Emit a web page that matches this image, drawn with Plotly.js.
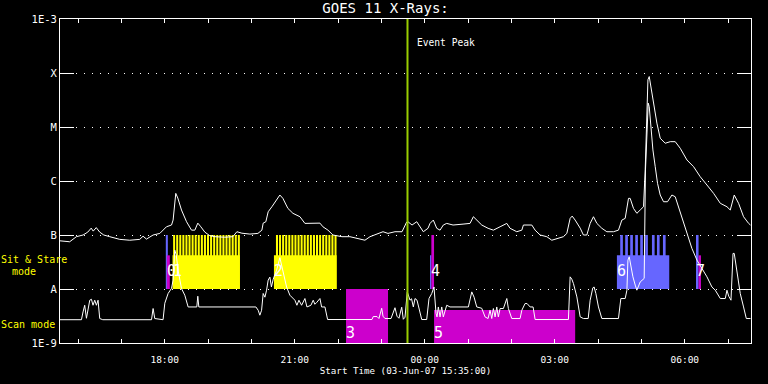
<!DOCTYPE html>
<html>
<head>
<meta charset="utf-8">
<script src="https://cdn.plot.ly/plotly-3.0.1.min.js"></script>
<style>html,body{margin:0;padding:0;background:#000;}#chart{width:768px;height:384px;}</style>
</head>
<body>
<div id="chart"></div>
<script>
// ---- data (times in minutes after the start time 03-Jun-07 15:35:00 UT) ----
const startTime = Date.UTC(2007, 5, 3, 15, 35, 0);
const endMinute = 956.7;
const eventPeak = '2007-06-03 23:36:06';

// GOES 11 long channel (upper curve), W/m^2
const longMin = [0,13.4,22.7,31.9,38.4,43.2,46.0,50.2,55.0,60.6,
  68.9,75.8,82.7,96.6,110.4,115.0,119.7,128.9,138.2,147.4,
  154.4,156.6,160.3,163.1,168.2,175.2,182.1,186.7,190.8,195.0,
  200.5,207.4,214.4,228.2,239.3,244.9,251.8,262.9,274.0,279.5,
  281.3,285.0,288.2,293.4,299.9,304.4,308.6,315.5,322.5,332.2,
  339.1,348.8,359.9,364.0,371.0,377.9,390.4,401.4,412.5,422.2,
  429.2,436.1,447.2,454.1,463.8,473.5,480.0,481.8,487.4,493.9,
  498.4,503.0,509.5,512.3,516.9,521.6,526.2,530.7,535.4,544.2,
  558.0,567.7,572.3,577.0,583.9,592.7,600.0,609.3,618.6,623.1,
  632.4,639.4,641.6,653.2,657.8,664.7,674.0,680.9,687.9,697.0,
  701.7,706.3,709.1,713.2,720.2,724.7,729.4,734.0,738.6,743.3,
  750.2,757.1,766.3,773.2,777.9,782.5,787.1,789.4,794.0,798.7,
  803.3,807.9,810.2,812.6,814.0,815.8,818.1,821.7,826.4,831.0,
  837.9,844.9,851.8,858.7,868.0,877.2,886.4,895.7,904.9,914.2,
  923.4,928.0,933.5,939.5,946.4,953.4,956.0];
const longFlux = [7.8e-8,7.5e-8,9.3e-8,1.0e-7,1.13e-7,1.34e-7,1.18e-7,1.37e-7,1.13e-7,1.0e-7,
  9.3e-8,8.8e-8,8.3e-8,8.0e-8,8.3e-8,9.5e-8,8.4e-8,1.0e-7,1.07e-7,1.42e-7,
  1.53e-7,1.89e-7,5.9e-7,4.84e-7,2.9e-7,1.76e-7,1.23e-7,1.23e-7,1.66e-7,1.42e-7,
  1.13e-7,9.7e-8,9.3e-8,9.1e-8,9.3e-8,1.15e-7,1.08e-7,1.04e-7,1.07e-7,1.23e-7,
  1.66e-7,1.76e-7,2.69e-7,3.34e-7,4.44e-7,5.5e-7,4.77e-7,3.11e-7,2.52e-7,2.18e-7,
  1.64e-7,1.64e-7,1.66e-7,1.42e-7,1.23e-7,1.0e-7,9.3e-8,9.3e-8,8.6e-8,8.0e-8,
  9.3e-8,1.0e-7,1.15e-7,1.07e-7,1.15e-7,1.15e-7,1.74e-7,1.76e-7,1.53e-7,1.76e-7,
  1.42e-7,1.15e-7,1.33e-7,1.64e-7,1.89e-7,1.33e-7,1.23e-7,1.53e-7,1.64e-7,1.53e-7,
  1.59e-7,1.64e-7,2.18e-7,1.89e-7,1.53e-7,1.33e-7,1.23e-7,1.42e-7,1.64e-7,1.33e-7,
  1.15e-7,1.23e-7,1.53e-7,1.53e-7,1.23e-7,1.0e-7,9.3e-8,8.0e-8,8.6e-8,9.3e-8,
  1.07e-7,2.03e-7,2.24e-7,1.89e-7,1.34e-7,1.0e-7,1.0e-7,1.64e-7,2.18e-7,1.64e-7,
  1.33e-7,1.15e-7,1.15e-7,1.23e-7,1.89e-7,2.03e-7,4.77e-7,4.77e-7,3.11e-7,2.52e-7,
  2.9e-7,3.34e-7,1.6e-6,2.77e-5,7.5e-5,8.6e-5,5.6e-5,2.39e-5,1.18e-5,6.2e-6,
  5.0e-6,5.35e-6,5.35e-6,4.04e-6,2.45e-6,1.84e-6,1.2e-6,8.43e-7,5.91e-7,3.86e-7,
  3.34e-7,2.9e-7,5.5e-7,3.86e-7,2.18e-7,1.64e-7,1.53e-7];

// GOES 11 short channel (lower curve), W/m^2
const shortMin = [0,29.7,31.9,34.2,36.6,38.8,41.2,43.5,45.7,48.1,
  50.4,52.7,55.0,59.2,126.7,128.9,131.2,142.7,145.1,149.7,
  154.4,156.6,158.9,161.0,163.5,168.2,172.8,177.4,189.4,190.8,
  192.2,271.2,274.4,276.7,279.1,281.3,283.7,286.0,288.2,290.6,
  292.7,295.2,299.9,304.4,308.6,313.7,318.3,325.2,328.0,330.8,
  334.5,339.1,341.9,347.4,350.6,352.9,355.7,359.9,362.2,366.8,
  370.5,431.9,433.7,438.9,441.6,445.4,447.2,449.9,458.3,463.8,
  466.6,469.3,473.1,475.3,477.7,480.8,484.6,486.7,489.2,491.5,
  494.3,496.1,500.8,507.7,510.9,514.7,517.8,520.6,522.0,523.8,
  526.2,528.5,530.7,535.4,540.0,565.4,570.1,573.3,577.0,583.9,
  588.5,592.7,595.4,597.8,600.0,602.4,604.7,606.9,609.3,613.9,
  618.6,620.8,625.5,637.0,639.4,643.9,646.7,650.9,655.0,657.8,
  703.9,706.3,708.6,710.9,715.6,720.2,724.7,731.3,734.0,737.7,
  739.5,741.9,745.5,750.2,773.2,776.5,782.5,784.9,786.3,788.1,
  790.4,793.2,796.4,798.7,803.3,808.8,810.6,812.6,814.4,815.8,
  818.1,820.9,824.1,827.3,831.0,835.6,841.1,847.2,851.8,856.4,
  861.1,868.0,874.9,881.9,888.8,895.7,902.6,907.2,914.2,921.1,
  923.4,925.9,929.0,931.8,933.5,937.3,941.8,946.4,950.2,956.0];
const shortFlux = [2.7e-9,2.7e-9,3.76e-9,5.0e-9,2.87e-9,4.04e-9,6.2e-9,6.45e-9,5.0e-9,6.2e-9,
  5.0e-9,6.2e-9,2.84e-9,2.7e-9,2.7e-9,4.35e-9,2.84e-9,2.7e-9,5.45e-9,8.26e-9,
  1.03e-8,1.46e-8,5.25e-8,4.24e-8,2.23e-8,1.02e-8,7.67e-9,4.65e-9,4.65e-9,7.35e-9,
  4.65e-9,4.65e-9,4.04e-9,3.27e-9,4.04e-9,8.26e-9,7.05e-9,9.5e-9,1.46e-8,1.66e-8,
  1.09e-8,1.52e-8,2.23e-8,3.81e-8,2.23e-8,1.09e-8,7.67e-9,6.2e-9,5.0e-9,6.2e-9,
  5.0e-9,6.66e-9,4.65e-9,5.0e-9,6.2e-9,5.22e-9,5.69e-9,6.66e-9,4.65e-9,4.65e-9,
  2.72e-9,2.72e-9,3.09e-9,3.09e-9,2.84e-9,4.4e-9,3.13e-9,2.84e-9,2.84e-9,4.5e-9,
  3.13e-9,2.87e-9,4.6e-9,2.75e-9,3.0e-9,8.84e-9,6.2e-9,6.6e-9,4.65e-9,6.66e-9,
  6.2e-9,5.0e-9,2.72e-9,2.72e-9,6.66e-9,8.26e-9,1.09e-8,3.55e-9,3.04e-9,4.65e-9,
  3.04e-9,4.65e-9,3.04e-9,5.0e-9,4.65e-9,4.65e-9,8.84e-9,7.05e-9,4.65e-9,4.4e-9,
  3.04e-9,2.84e-9,4.04e-9,2.84e-9,4.35e-9,3.04e-9,4.65e-9,3.04e-9,4.35e-9,4.35e-9,
  6.66e-9,4.35e-9,2.84e-9,2.84e-9,4.04e-9,5.38e-9,5.38e-9,4.65e-9,4.65e-9,2.72e-9,
  2.72e-9,1.68e-8,1.52e-8,1.26e-8,7.13e-9,3.04e-9,2.84e-9,2.84e-9,6.2e-9,1.05e-8,
  1.09e-8,8.26e-9,4.65e-9,2.84e-9,2.84e-9,6.66e-9,6.66e-9,9.5e-9,3.42e-8,3.94e-8,
  2.57e-8,1.68e-8,1.18e-8,9.5e-9,1.35e-8,1.57e-8,1.6e-6,1.02e-5,2.77e-5,2.39e-5,
  1.02e-5,3.76e-6,1.84e-6,9.06e-7,5.5e-7,4.13e-7,4.13e-7,5.5e-7,5.11e-7,3.34e-7,
  2.18e-7,1.07e-7,5.64e-8,3.42e-8,2.40e-8,1.68e-8,1.09e-8,9.5e-9,6.66e-9,6.66e-9,
  9.5e-9,7.35e-9,6.2e-9,4.56e-8,4.56e-8,1.94e-8,8.26e-9,4.65e-9,2.84e-9,2.84e-9];

// observing blocks: start, end, flux-band bottom, flux-band top, study kind (0,1,2)
const spanStart = ['2007-06-03 18:01:30','2007-06-03 18:02:54','2007-06-03 18:10:48','2007-06-03 20:31:12',
  '2007-06-03 22:11:00','2007-06-04 00:07:20','2007-06-04 00:09:10','2007-06-04 00:12:53',
  '2007-06-04 04:26:03','2007-06-04 06:15:31','2007-06-04 06:19:06'];
const spanEnd = ['2007-06-03 18:04:18','2007-06-03 18:07:04','2007-06-03 19:44:00','2007-06-03 21:58:00',
  '2007-06-03 23:09:09','2007-06-04 00:09:10','2007-06-04 00:12:53','2007-06-04 03:28:16',
  '2007-06-04 05:38:32','2007-06-04 06:19:06','2007-06-04 06:22:24'];
const spanLow = [1e-8,1e-8,1e-8,1e-8,1e-9,1e-8,1e-8,1e-9,1e-8,1e-8,1e-8];
const spanHigh = [1e-7,4.2e-8,4.2e-8,4.2e-8,1e-8,4.2e-8,1e-7,4.1e-9,4.2e-8,1e-7,4.2e-8];
const spanKind = [1,2,0,0,2,1,2,2,1,1,2];

// repeated sit & stare exposures
const stripeStartK0 = ['2007-06-03 18:11:36','2007-06-03 18:15:52','2007-06-03 18:20:08','2007-06-03 18:24:24',
  '2007-06-03 18:28:40','2007-06-03 18:32:56','2007-06-03 18:37:12','2007-06-03 18:41:28','2007-06-03 18:45:44',
  '2007-06-03 18:50:00','2007-06-03 18:54:16','2007-06-03 18:58:32','2007-06-03 19:02:48','2007-06-03 19:07:04',
  '2007-06-03 19:11:20','2007-06-03 19:15:36','2007-06-03 19:19:52','2007-06-03 19:24:08','2007-06-03 19:28:24',
  '2007-06-03 19:32:40','2007-06-03 19:36:56','2007-06-03 19:41:12',
  '2007-06-03 20:34:00','2007-06-03 20:38:16','2007-06-03 20:42:32','2007-06-03 20:46:48','2007-06-03 20:51:04',
  '2007-06-03 20:55:20','2007-06-03 20:59:36','2007-06-03 21:03:52','2007-06-03 21:08:08','2007-06-03 21:12:24',
  '2007-06-03 21:16:40','2007-06-03 21:20:56','2007-06-03 21:25:12','2007-06-03 21:29:28','2007-06-03 21:33:44',
  '2007-06-03 21:38:00','2007-06-03 21:42:16','2007-06-03 21:46:32','2007-06-03 21:50:48','2007-06-03 21:55:04'];
const stripeSecK0 = 168;
const stripeStartK1 = ['2007-06-04 04:30:37','2007-06-04 04:37:32','2007-06-04 04:44:29','2007-06-04 04:51:25',
  '2007-06-04 04:58:20','2007-06-04 05:05:16','2007-06-04 05:14:33','2007-06-04 05:21:29','2007-06-04 05:29:48'];
const stripeSecK1 = 222;
const stripeLow = 1e-8, stripeHigh = 1e-7;

// observation numbers
const obsText = ['0','1','2','3','4','5','6','7'];
const obsTime = ['2007-06-03 18:02:54','2007-06-03 18:10:48','2007-06-03 20:31:12','2007-06-03 22:11:00',
  '2007-06-04 00:09:10','2007-06-04 00:12:53','2007-06-04 04:26:03','2007-06-04 06:15:31'];
const obsMode = ['sit','sit','sit','scan','sit','scan','sit','sit'];

const fluxTicks = [1e-9,1e-8,1e-7,1e-6,1e-5,1e-4,1e-3];
const fluxTickText = ['1E-9','A','B','C','M','X','1E-3'];

// ---- styling ----
const kindColor = ['#ffff00', '#6666ff', '#cc00cc'];
const MONO = 'DejaVu Sans Mono, monospace';

function at(min) {
  return new Date(startTime + min * 60000).toISOString().slice(0, 19).replace('T', ' ');
}
function ms(s) { return Date.parse(s.replace(' ', 'T') + 'Z'); }

const traces = [];
for (let k = 0; k < 3; k++) {
  const x = [], w = [], base = [], y = [];
  spanStart.forEach((s, i) => {
    if (spanKind[i] !== k) return;
    x.push(s); w.push(ms(spanEnd[i]) - ms(s)); base.push(spanLow[i]); y.push(spanHigh[i] - spanLow[i]);
  });
  const stripes = k === 0 ? stripeStartK0 : (k === 1 ? stripeStartK1 : []);
  const sec = k === 0 ? stripeSecK0 : stripeSecK1;
  stripes.forEach(s => { x.push(s); w.push(sec * 1000); base.push(stripeLow); y.push(stripeHigh - stripeLow); });
  traces.push({type: 'bar', x: x, y: y, base: base, width: w, offset: 0,
    marker: {color: kindColor[k], line: {width: 0}}, hoverinfo: 'skip'});
}
traces.push({type: 'scatter', mode: 'lines', x: longMin.map(at), y: longFlux,
  line: {color: '#ffffff', width: 1}, hoverinfo: 'skip'});
traces.push({type: 'scatter', mode: 'lines', x: shortMin.map(at), y: shortFlux,
  line: {color: '#ffffff', width: 1}, hoverinfo: 'skip'});

const annotations = [];
obsText.forEach((t, i) => {
  annotations.push({text: t, x: obsTime[i], xref: 'x', xanchor: 'left', xshift: -2,
    yref: 'paper', y: obsMode[i] === 'sit' ? 0.221 : 0.032, yanchor: 'middle',
    showarrow: false, font: {family: MONO, size: 15, color: '#ffffff'}});
});
annotations.push({text: 'Event Peak', x: eventPeak, xref: 'x', xanchor: 'left', xshift: 8,
  yref: 'paper', y: 0.927, yanchor: 'middle', showarrow: false,
  font: {family: MONO, size: 9.6, color: '#ffffff'}});
annotations.push({text: 'Sit & Stare', xref: 'paper', x: 0, xshift: -61, xanchor: 'left',
  yref: 'paper', y: 0.259, yanchor: 'middle', showarrow: false, font: {family: MONO, size: 10, color: '#ffff00'}});
annotations.push({text: 'mode', xref: 'paper', x: 0, xshift: -50, xanchor: 'left',
  yref: 'paper', y: 0.222, yanchor: 'middle', showarrow: false, font: {family: MONO, size: 10, color: '#ffff00'}});
annotations.push({text: 'Scan mode', xref: 'paper', x: 0, xshift: -61, xanchor: 'left',
  yref: 'paper', y: 0.058, yanchor: 'middle', showarrow: false, font: {family: MONO, size: 10, color: '#ffff00'}});

const layout = {
  width: 768, height: 384,
  paper_bgcolor: '#000000', plot_bgcolor: '#000000',
  margin: {l: 60, r: 17, t: 19, b: 41, pad: 0},
  showlegend: false, barmode: 'overlay',
  font: {family: MONO, color: '#ffffff', size: 10},
  title: {text: 'GOES 11 X-Rays:', x: 0.502, xanchor: 'center', y: 0.978, yanchor: 'middle',
    font: {family: MONO, size: 14, color: '#ffffff'}},
  xaxis: {
    type: 'date', range: [at(0), at(endMinute)],
    showline: true, linecolor: '#ffffff', linewidth: 1, mirror: 'ticks',
    ticks: 'inside', ticklen: 4, tickcolor: '#ffffff', tickwidth: 1,
    tick0: '2007-06-03 18:00:00', dtick: 3 * 3600000, tickformat: '%H:%M',
    minor: {dtick: 3600000, ticks: 'inside', ticklen: 4, tickcolor: '#ffffff', showgrid: false},
    showgrid: false, zeroline: false, ticklabelstandoff: 8,
    tickfont: {family: MONO, size: 9.5, color: '#ffffff'},
    title: {text: 'Start Time (03-Jun-07 15:35:00)', standoff: 2, font: {family: MONO, size: 9.2, color: '#ffffff'}}
  },
  yaxis: {
    type: 'log', range: [-9, -3],
    tickvals: fluxTicks, ticktext: fluxTickText,
    showline: true, linecolor: '#ffffff', linewidth: 1, mirror: 'ticks',
    ticks: 'inside', ticklen: 14, tickcolor: '#ffffff', tickwidth: 1,
    showgrid: true, gridcolor: '#ffffff', gridwidth: 1, griddash: '1px,7px',
    zeroline: false, tickfont: {family: MONO, size: 10.5, color: '#ffffff'}
  },
  shapes: [{type: 'line', xref: 'x', yref: 'paper', x0: eventPeak, x1: eventPeak, y0: 0, y1: 1,
    line: {color: '#99cc00', width: 2}, layer: 'above'}],
  annotations: annotations
};

Plotly.newPlot('chart', traces, layout, {staticPlot: true, displayModeBar: false});
</script>
</body>
</html>
